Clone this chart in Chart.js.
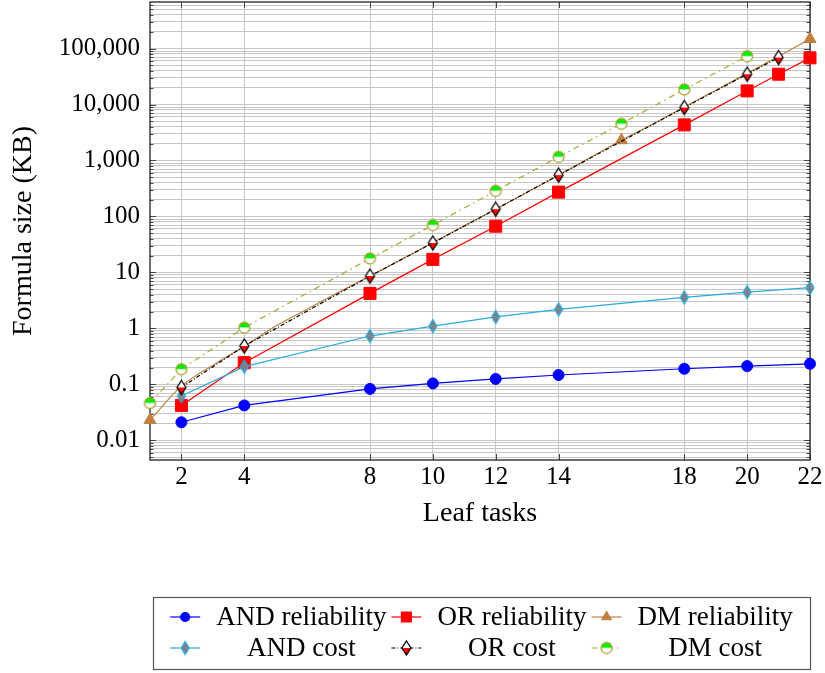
<!DOCTYPE html>
<html>
<head>
<meta charset="utf-8">
<script src="https://cdn.jsdelivr.net/npm/chart.js@4"></script>
<style>
  body { margin: 0; background: #fff; }
  canvas { display: block; }
</style>
</head>
<body>
<canvas id="chart" width="825" height="673"></canvas>
<script>
// ---- data ----
const xTicks = [2, 4, 8, 10, 12, 14, 18, 20, 22];
const yTickValues = [0.01, 0.1, 1, 10, 100, 1000, 10000, 100000];
const yTickLabels = ["0.01", "0.1", "1", "10", "100", "1,000", "10,000", "100,000"];

const xAnd = [2, 4, 8, 10, 12, 14, 18, 20, 22];
const andReliability = [0.021, 0.042, 0.083, 0.104, 0.125, 0.147, 0.19, 0.212, 0.233];
const andCost = [0.062, 0.207, 0.73, 1.10, 1.60, 2.19, 3.58, 4.46, 5.33];

const xOrRel = [2, 4, 8, 10, 12, 14, 18, 20, 21, 22];
const orReliability = [0.042, 0.244, 4.22, 17.1, 67, 272, 4330, 17500, 34800, 68200];

const xOrCost = [2, 4, 8, 10, 12, 14, 18, 20, 21];
const orCost = [0.088, 0.484, 8.6, 33.6, 135, 547, 8840, 34800, 69100];

const xDmRel = [1, 2, 3, 4, 5, 6, 7, 8, 9, 10, 11, 12, 13, 14, 15, 16, 17, 18, 19, 20, 21, 22];
const dmReliability = [0.023, 0.093, 0.22, 0.48, 1.1, 2.2, 4.4, 8.6, 17, 34, 68, 135, 270, 545,
  1120, 2300, 4500, 9000, 18000, 36000, 73000, 148000];
const dmRelMarked = [1, 16, 22];

const xDmCost = [1, 2, 4, 8, 10, 12, 14, 16, 18, 20];
const dmCost = [0.0464, 0.186, 1.03, 17.7, 70, 287, 1160, 4520, 18600, 73000];

const seriesLabels = ["AND reliability", "OR reliability", "DM reliability", "AND cost", "OR cost", "DM cost"];

// ---- helpers ----
const FONT = "'Liberation Serif', 'Times New Roman', serif";
const pts = (xs, ys) => xs.map((x, i) => ({ x, y: ys[i] }));

function diamondImg(w, h, top, bottom, stroke) {
  const c = document.createElement("canvas");
  c.width = w + 4; c.height = h + 4;
  const g = c.getContext("2d");
  const cx = c.width / 2, cy = c.height / 2;
  const path = () => {
    g.beginPath();
    g.moveTo(cx, cy - h / 2); g.lineTo(cx + w / 2, cy);
    g.lineTo(cx, cy + h / 2); g.lineTo(cx - w / 2, cy); g.closePath();
  };
  g.save(); g.beginPath(); g.rect(0, 0, c.width, cy); g.clip(); path(); g.fillStyle = top; g.fill(); g.restore();
  g.save(); g.beginPath(); g.rect(0, cy, c.width, cy); g.clip(); path(); g.fillStyle = bottom; g.fill(); g.restore();
  path(); g.lineWidth = 1.3; g.strokeStyle = stroke; g.stroke();
  return c;
}

function halfCircleImg(d, top, bottom, stroke) {
  const c = document.createElement("canvas");
  c.width = d + 4; c.height = d + 4;
  const g = c.getContext("2d");
  const cx = c.width / 2, cy = c.height / 2, r = d / 2;
  g.beginPath(); g.arc(cx, cy, r, Math.PI, 2 * Math.PI); g.closePath(); g.fillStyle = top; g.fill();
  g.beginPath(); g.arc(cx, cy, r, 0, Math.PI); g.closePath(); g.fillStyle = bottom; g.fill();
  g.beginPath(); g.arc(cx, cy, r, 0, 2 * Math.PI); g.lineWidth = 1.3; g.strokeStyle = stroke; g.stroke();
  return c;
}

const andCostMark = diamondImg(8, 13, "#808080", "#808080", "#29abe2");
const orCostMark = diamondImg(9, 14, "#ffffff", "#ff0000", "#000000");
const dmCostMark = halfCircleImg(11, "#00ee00", "#ffffff", "#aaa530");

// y grid: every 1..9 x 10^k inside the axis range
const yMin = 0.00445, yMax = 679000;
const yGrid = [];
for (let k = -3; k <= 5; k++) {
  for (let m = 1; m <= 9; m++) {
    const v = parseFloat(m + "e" + k);
    if (v >= yMin && v <= yMax) yGrid.push(v);
  }
}

const datasets = [
  { label: seriesLabels[0], data: pts(xAnd, andReliability), borderColor: "#0000ff", backgroundColor: "#0000ff",
    pointStyle: "circle", pointRadius: 5.5, borderWidth: 1.2 },
  { label: seriesLabels[1], data: pts(xOrRel, orReliability), borderColor: "#ff0000", backgroundColor: "#ff0000",
    pointStyle: "rect", pointRadius: 8.5, borderWidth: 1.2 },
  { label: seriesLabels[2], data: pts(xDmRel, dmReliability), borderColor: "#bf8040", backgroundColor: "#bf8040",
    pointStyle: "triangle", borderWidth: 1.2, cubicInterpolationMode: "monotone",
    pointRadius: ctx => dmRelMarked.includes(xDmRel[ctx.dataIndex]) ? 7 : 0 },
  { label: seriesLabels[3], data: pts(xAnd, andCost), borderColor: "#29abe2", backgroundColor: "#808080",
    pointStyle: andCostMark, pointRadius: 6, borderWidth: 1.2 },
  { label: seriesLabels[4], data: pts(xOrCost, orCost), borderColor: "#000000", backgroundColor: "#ffffff",
    pointStyle: orCostMark, pointRadius: 6, borderWidth: 1.2, borderDash: [4, 2, 1, 2] },
  { label: seriesLabels[5], data: pts(xDmCost, dmCost), borderColor: "#aaa530", backgroundColor: "#00ee00",
    pointStyle: dmCostMark, pointRadius: 6, borderWidth: 1.2, borderDash: [6, 4, 1.5, 4] }
].map((d, i) => ({ ...d, order: 6 - i, clip: false, tension: 0, pointBorderWidth: 1, fill: false }));

// frame + inward ticks like pgfplots
const framePlugin = {
  id: "frame",
  beforeDatasetsDraw(chart) {
    const { ctx, chartArea: a, scales } = chart;
    ctx.save();
    ctx.strokeStyle = "#444";
    ctx.lineWidth = 1;
    yGrid.forEach(v => {
      const y = Math.round(scales.y.getPixelForValue(v)) + 0.5;
      const len = yTickValues.includes(v) ? 6 : 3.5;
      ctx.beginPath();
      ctx.moveTo(a.left, y); ctx.lineTo(a.left + len, y);
      ctx.moveTo(a.right, y); ctx.lineTo(a.right - len, y);
      ctx.stroke();
    });
    xTicks.forEach(v => {
      const x = Math.round(scales.x.getPixelForValue(v)) + 0.5;
      ctx.beginPath();
      ctx.moveTo(x, a.top); ctx.lineTo(x, a.top + 6);
      ctx.moveTo(x, a.bottom); ctx.lineTo(x, a.bottom - 6);
      ctx.stroke();
    });
    ctx.strokeStyle = "#222";
    ctx.lineWidth = 1.3;
    ctx.strokeRect(a.left, a.top, a.right - a.left, a.bottom - a.top);
    ctx.restore();
  }
};

// two-row, three-column legend box under the plot
const legendPlugin = {
  id: "boxLegend",
  afterDraw(chart) {
    const ctx = chart.ctx;
    const box = { left: 153, top: 597, right: 810, bottom: 669 };
    const rows = [617, 648];
    ctx.save();
    ctx.font = "27px " + FONT;
    const cols = [0, 1, 2].map(c => Math.max(
      ctx.measureText(seriesLabels[c]).width, ctx.measureText(seriesLabels[c + 3]).width));
    const sampleW = 30, gapA = 16, gapB = 5;
    const total = cols.reduce((s, w) => s + sampleW + gapA + w + gapB, 0) - gapB;
    let x = box.left + (box.right - box.left - total) / 2;
    ctx.fillStyle = "#fff";
    ctx.fillRect(box.left, box.top, box.right - box.left, box.bottom - box.top);
    ctx.strokeStyle = "#555";
    ctx.lineWidth = 1.2;
    ctx.strokeRect(box.left + 0.5, box.top + 0.5, box.right - box.left, box.bottom - box.top);
    cols.forEach((w, c) => {
      [c, c + 3].forEach((di, r) => {
        const ds = chart.data.datasets[di];
        const y = rows[r];
        ctx.save();
        ctx.strokeStyle = ds.borderColor;
        ctx.lineWidth = ds.borderWidth;
        ctx.setLineDash(ds.borderDash || []);
        ctx.beginPath(); ctx.moveTo(x, y); ctx.lineTo(x + sampleW, y); ctx.stroke();
        ctx.setLineDash([]);
        const mx = x + sampleW / 2;
        if (typeof ds.pointStyle === "string") {
          ctx.fillStyle = ds.backgroundColor;
          ctx.strokeStyle = ds.backgroundColor;
          const r0 = ds.pointStyle === "rect" ? 7 : ds.pointStyle === "triangle" ? 5.5 : 4.5;
          Chart.helpers.drawPoint(ctx, { pointStyle: ds.pointStyle, radius: r0, rotation: 0, borderWidth: 1 }, mx, y);
        } else {
          const img = ds.pointStyle;
          ctx.drawImage(img, mx - img.width / 2, y - img.height / 2);
        }
        ctx.restore();
        ctx.fillStyle = "#000";
        ctx.textAlign = "center";
        ctx.textBaseline = "middle";
        ctx.fillText(seriesLabels[di], x + sampleW + gapA + w / 2, y + 1);
      });
      x += sampleW + gapA + w + gapB;
    });
    ctx.restore();
  }
};

new Chart(document.getElementById("chart"), {
  type: "line",
  data: { datasets },
  plugins: [framePlugin, legendPlugin],
  options: {
    responsive: false,
    animation: false,
    layout: { autoPadding: false, padding: { left: 0, right: 15, top: 2, bottom: 133 } },
    plugins: { legend: { display: false }, tooltip: { enabled: false } },
    scales: {
      x: {
        type: "linear", min: 1, max: 22,
        afterBuildTicks: s => { s.ticks = xTicks.map(v => ({ value: v })); },
        afterFit: s => { s.height = 80; s.paddingLeft = 0; s.paddingRight = 0; },
        border: { display: false },
        grid: { color: "#c6c6c6", drawTicks: false },
        ticks: { font: { family: FONT, size: 25 }, color: "#000", padding: 2, autoSkip: false, maxRotation: 0,
          callback: v => String(v) },
        title: { display: true, text: "Leaf tasks", color: "#000", font: { family: FONT, size: 28 },
          padding: { top: 0, bottom: 10 } }
      },
      y: {
        type: "logarithmic", min: yMin, max: yMax,
        afterBuildTicks: s => { s.ticks = yGrid.map(v => ({ value: v })); },
        afterFit: s => { s.width = 150; s.paddingTop = 0; s.paddingBottom = 0; },
        border: { display: false },
        grid: { color: "#c6c6c6", drawTicks: false },
        ticks: { font: { family: FONT, size: 25 }, color: "#000", padding: 10, autoSkip: false,
          callback: v => { const i = yTickValues.indexOf(v); return i >= 0 ? yTickLabels[i] : ""; } },
        title: { display: true, text: "Formula size (KB)", color: "#000", font: { family: FONT, size: 28 },
          padding: { top: 7, bottom: 0 } }
      }
    }
  }
});
</script>
</body>
</html>
